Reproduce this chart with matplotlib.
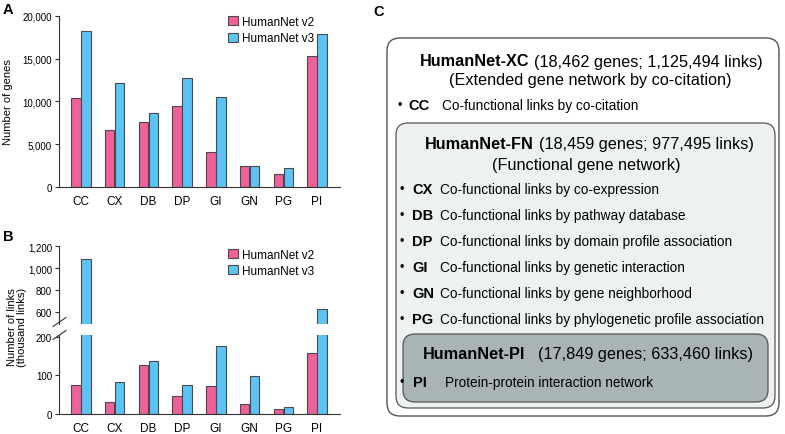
import matplotlib
matplotlib.use('Agg')
import matplotlib.pyplot as plt
from matplotlib.patches import FancyBboxPatch
import numpy as np

plt.rcParams['font.family'] = ['Liberation Sans', 'DejaVu Sans']

# data
categories = ['CC', 'CX', 'DB', 'DP', 'GI', 'GN', 'PG', 'PI']
genes_v2 = [10350, 6650, 7550, 9500, 4070, 2470, 1530, 15340]
genes_v3 = [18300, 12170, 8600, 12720, 10530, 2390, 2150, 17890]
links_v2 = [73.6, 30.3, 126.4, 46, 71, 25, 11, 159]
links_v3 = [1081, 82, 136, 73.6, 175.8, 98.7, 16.5, 633]
genes_ticks = [0, 5000, 10000, 15000, 20000]
links_ticks_low = [0, 100, 200]
links_ticks_high = [600, 800, 1000, 1200]
series_names = ['HumanNet v2', 'HumanNet v3']

# panel C text
xc_title = ('HumanNet-XC', '(18,462 genes; 1,125,494 links)')
xc_sub = '(Extended gene network by co-citation)'
fn_title = ('HumanNet-FN', '(18,459 genes; 977,495 links)')
fn_sub = '(Functional gene network)'
pi_title = ('HumanNet-PI', '(17,849 genes; 633,460 links)')
xc_items = [('CC', 'Co-functional links by co-citation')]
fn_items = [('CX', 'Co-functional links by co-expression'),
            ('DB', 'Co-functional links by pathway database'),
            ('DP', 'Co-functional links by domain profile association'),
            ('GI', 'Co-functional links by genetic interaction'),
            ('GN', 'Co-functional links by gene neighborhood'),
            ('PG', 'Co-functional links by phylogenetic profile association')]
pi_items = [('PI', 'Protein-protein interaction network')]

W, H = 785, 435
c_v2 = '#F0609A'
c_v3 = '#5BC3F5'
edge = '#4a4a4a'
spine_c = '#333333'

fig = plt.figure(figsize=(W / 100, H / 100), dpi=100)


def px_axes(left, top, right, bottom):
    return fig.add_axes([left / W, 1 - bottom / H, (right - left) / W, (bottom - top) / H])


x = np.arange(len(categories))
bw = 0.28
off = 0.15


def style(ax, bottom=True):
    for s in ['top', 'right']:
        ax.spines[s].set_visible(False)
    ax.spines['left'].set_color(spine_c)
    ax.spines['left'].set_linewidth(0.8)
    ax.spines['bottom'].set_color(spine_c)
    ax.spines['bottom'].set_linewidth(0.8)
    if not bottom:
        ax.spines['bottom'].set_visible(False)
    ax.tick_params(axis='y', length=3, width=0.8, color=spine_c, labelsize=7, pad=2)
    ax.tick_params(axis='x', length=0, labelsize=8.5, pad=6)
    ax.set_xlim(-0.65, 7.68)


def bars(ax, v2, v3):
    ax.bar(x - off, v2, bw, color=c_v2, edgecolor=edge, linewidth=0.8, label=series_names[0])
    ax.bar(x + off, v3, bw, color=c_v3, edgecolor=edge, linewidth=0.8, label=series_names[1])


leg_kw = dict(loc='upper left', frameon=False, fontsize=8.5, handlelength=0.85, handleheight=0.8,
              handletextpad=0.4, labelspacing=0.35, borderpad=0, borderaxespad=0)

# panel A
axA = px_axes(59, 17, 340, 187.7)
bars(axA, genes_v2, genes_v3)
style(axA)
axA.set_ylim(0, 20000)
axA.set_yticks(genes_ticks)
axA.set_yticklabels([f'{v:,}' for v in genes_ticks])
axA.set_xticks(x)
axA.set_xticklabels(categories)
axA.set_ylabel('Number of genes', fontsize=8)
axA.yaxis.set_label_coords(-0.165, 0.5)
axA.legend(bbox_to_anchor=(0.6, 1.0), **leg_kw)

# panel B, broken axis
axBh = px_axes(59, 247.3, 340, 325)
axBl = px_axes(59, 335.8, 340, 414.7)
for ax in (axBh, axBl):
    bars(ax, links_v2, links_v3)
style(axBh, bottom=False)
style(axBl)
axBh.set_ylim(494, 1200)
axBl.set_ylim(0, 205)
axBh.set_yticks(links_ticks_high)
axBh.set_yticklabels([f'{v:,}' for v in links_ticks_high])
axBl.set_yticks(links_ticks_low)
axBl.set_yticklabels([f'{v:,}' for v in links_ticks_low])
axBh.set_xticks([])
axBl.set_xticks(x)
axBl.set_xticklabels(categories)
axBh.legend(bbox_to_anchor=(0.6, 0.97), **leg_kw)

# overlay for panel C, break marks and panel letters
ov = fig.add_axes([0, 0, 1, 1])
ov.set_xlim(0, W)
ov.set_ylim(H, 0)
ov.axis('off')
ov.patch.set_alpha(0)

for cy in (323, 336):
    ov.plot([53, 66], [cy + 4.5, cy - 4.5], color=spine_c, lw=0.8)

fig.text(17 / W, 1 - 327 / H, 'Number of links\n(thousand links)', rotation=90,
         ha='center', va='center', fontsize=8, linespacing=1.1)

for lab, (lx, ly) in zip('ABC', [(8, 10), (8, 237), (379, 12)]):
    ov.text(lx, ly, lab, fontsize=10.5, fontweight='bold', ha='center', va='center')

# boxes
ov.add_patch(FancyBboxPatch((387, 39), 779 - 387, 417 - 39, boxstyle='round,pad=0,rounding_size=13',
                            facecolor='white', edgecolor='#555555', lw=1.0))
ov.add_patch(FancyBboxPatch((396, 124), 775 - 396, 409 - 124, boxstyle='round,pad=0,rounding_size=12',
                            facecolor='#EDF1F2', edgecolor='#555555', lw=0.9))
ov.add_patch(FancyBboxPatch((403, 335), 768 - 403, 403 - 335, boxstyle='round,pad=0,rounding_size=12',
                            facecolor='#A8B4B6', edgecolor='#555555', lw=0.9))

renderer = fig.canvas.get_renderer()


def title_line(x0, y, parts, gap):
    bold, rest = parts
    t = ov.text(x0, y, bold, fontsize=11.7, fontweight='bold', ha='left', va='center')
    wpx = t.get_window_extent(renderer).width
    ov.text(x0 + wpx + gap, y, rest, fontsize=11.7, ha='left', va='center')


def item_line(xb, y, code, desc, xcode, xdesc):
    ov.text(xb, y, '•', fontsize=9, ha='center', va='center')
    ov.text(xcode, y, code, fontsize=10.5, fontweight='bold', ha='left', va='center')
    ov.text(xdesc, y, desc, fontsize=9.8, ha='left', va='center')


title_line(420, 62, xc_title, 5)
ov.text(590, 80, xc_sub, fontsize=11.7, ha='center', va='center')
for code, desc in xc_items:
    item_line(400, 106, code, desc, 408, 442)

title_line(425, 145, fn_title, 5)
ov.text(586, 166, fn_sub, fontsize=11.7, ha='center', va='center')
for i, (code, desc) in enumerate(fn_items):
    item_line(402, 190 + 26 * i, code, desc, 412, 440)

title_line(423, 355, pi_title, 13)
for code, desc in pi_items:
    item_line(402, 383, code, desc, 413, 445)

fig.savefig('out.png', dpi=100)
